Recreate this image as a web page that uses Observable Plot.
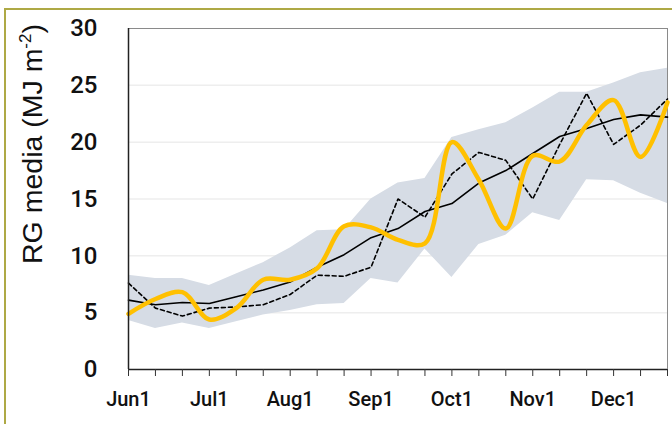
<!DOCTYPE html>
<html>
<head>
<meta charset="utf-8">
<script src="https://cdn.jsdelivr.net/npm/d3@7"></script>
<script src="https://cdn.jsdelivr.net/npm/@observablehq/plot@0.6"></script>
<style>
  html, body { margin: 0; padding: 0; background: #fff; overflow: hidden; }
  #wrap { position: relative; width: 672px; height: 424px; }
  #border { position: absolute; left: 4px; top: 8px; width: 900px; height: 700px;
            border-top: 2px solid #aea945; border-left: 2px solid #aea945; }
  #chart { position: absolute; left: 0; top: 0; }
</style>
</head>
<body>
<div id="wrap"><div id="border"></div><div id="chart"></div></div>
<script>
// dekad index (0 = Jun 1, 3 = Jul 1, ...)
const dekad = [0,1,2,3,4,5,6,7,8,9,10,11,12,13,14,15,16,17,18,19,20];
const rgMax  = [8.3,8.0,8.0,7.4,8.4,9.4,10.7,12.2,12.3,15.0,16.4,16.8,20.4,21.1,21.7,23.0,24.4,24.4,25.2,26.1,26.5];
const rgMin  = [4.3,3.6,4.1,3.6,4.2,4.8,5.2,5.7,5.8,8.0,7.6,10.6,8.1,11.0,11.8,13.8,13.1,16.7,16.6,15.5,14.6];
const rgMean = [6.1,5.7,5.9,5.8,6.4,7.0,7.7,9.0,10.1,11.6,12.4,13.9,14.6,16.4,17.5,19.0,20.5,21.2,22.0,22.4,22.2];
const rgDash = [7.6,5.4,4.7,5.4,5.5,5.7,6.6,8.3,8.2,9.0,15.0,13.4,17.2,19.1,18.4,15.0,19.8,24.3,19.8,21.5,23.8];
const rgYear = [4.9,6.2,6.8,4.4,5.4,7.9,7.9,8.9,12.6,12.5,11.4,11.1,20.0,16.7,12.4,18.8,18.3,21.5,23.7,18.7,23.5];
const monthTicks  = [0,3,6,9,12,15,18];
const monthLabels = ["Jun1","Jul1","Aug1","Sep1","Oct1","Nov1","Dec1"];
const yTicks = [0,5,10,15,20,25,30];

const data = dekad.map((d, i) => ({d, max: rgMax[i], min: rgMin[i], mean: rgMean[i], dash: rgDash[i], year: rgYear[i]}));
const fmtX = v => { const k = monthTicks.indexOf(v); return k >= 0 ? monthLabels[k] : ""; };

const plot = Plot.plot({
  width: 672, height: 424,
  marginLeft: 128, marginTop: 28, marginRight: 5, marginBottom: 55,
  style: {fontFamily: "Roboto, sans-serif", background: "transparent", overflow: "visible"},
  x: {domain: [0, 20], label: null},
  y: {domain: [0, 30], label: null},
  marks: [
    Plot.gridY(yTicks.slice(1, -1), {stroke: "#eeeeee", strokeOpacity: 1, strokeWidth: 1.5}),
    Plot.areaY(data, {x: "d", y1: "min", y2: "max", fill: "#d6dce5"}),
    Plot.frame({stroke: "#8a8a8a", strokeWidth: 1}),
    Plot.lineY(data, {x: "d", y: "mean", stroke: "#000", strokeWidth: 1.6}),
    Plot.lineY(data, {x: "d", y: "dash", stroke: "#000", strokeWidth: 1.6, strokeDasharray: "4,3"}),
    Plot.lineY(data, {x: "d", y: "year", stroke: "#ffc000", strokeWidth: 4.5, curve: "catmull-rom"}),
    Plot.ruleX([0], {stroke: "#222", strokeWidth: 1.5}),
    Plot.ruleY([0], {stroke: "#222", strokeWidth: 1.5}),
    Plot.axisX({ticks: dekad, tickFormat: fmtX, tickSize: 7, tickPadding: 15, fontSize: 20, fontWeight: 500, stroke: "#333", fill: "#111", label: null}),
    Plot.axisY({ticks: yTicks, tickSize: 0, tickPadding: 31, fontSize: 24, fontWeight: 500, fill: "#111", label: null})
  ]
});
document.getElementById("chart").appendChild(plot);

// y axis title with superscript
const svg = d3.select(plot);
const t = svg.append("text")
  .attr("transform", "translate(42,144) rotate(-90)")
  .attr("text-anchor", "middle")
  .attr("font-family", "'Liberation Sans', Arial, sans-serif")
  .attr("font-size", 28.5)
  .attr("fill", "#111");
t.append("tspan").text("RG media (MJ m");
t.append("tspan").attr("font-size", 17).attr("dy", -11).text("-2");
t.append("tspan").attr("dy", 11).text(")");
</script>
</body>
</html>
